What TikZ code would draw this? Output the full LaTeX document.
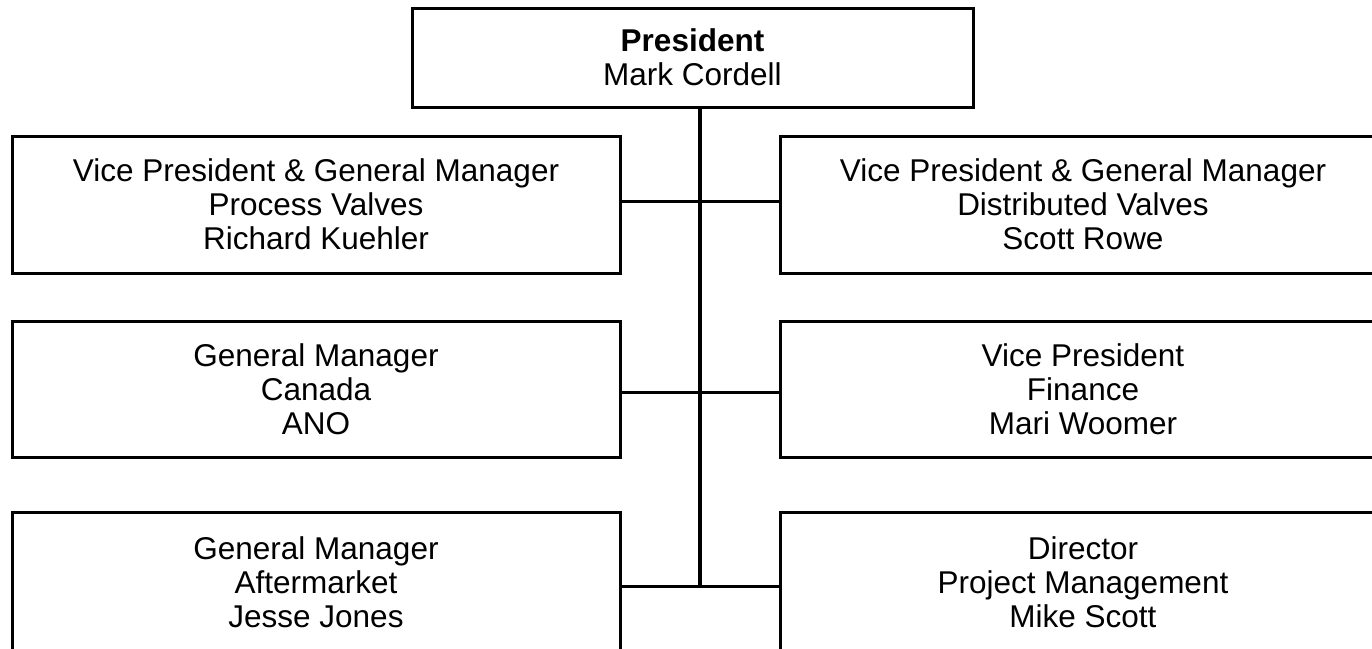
\documentclass[tikz,border=0pt]{standalone}
\usepackage{fontspec}
\setmainfont{Liberation Sans}
\begin{document}
\begin{tikzpicture}[x=1pt,y=-1pt,
  orgbox/.style={draw=black, line width=3pt, fill=white, rectangle, inner sep=0pt,
    align=center, font=\fontsize{31.5}{34}\selectfont},
  link/.style={draw=black, line width=3pt},
  spine/.style={draw=black, line width=4pt}]
\useasboundingbox (0,0) rectangle (1372,648);
\clip (0,0) rectangle (1372,648);
\fill[white] (0,0) rectangle (1372,648);

% President
\node[orgbox, minimum width=561pt, minimum height=99pt] (P) at (692.5,57.5)
  {\textbf{President}\\Mark Cordell};

% Left column
\node[orgbox, minimum width=608pt, minimum height=137pt] (L1) at (316,204.5)
  {Vice President \& General Manager\\Process Valves\\Richard Kuehler};
\node[orgbox, minimum width=608pt, minimum height=136pt] (L2) at (316,389)
  {General Manager\\Canada\\ANO};
\node[orgbox, minimum width=608pt, minimum height=140pt] (L3) at (316,582)
  {General Manager\\Aftermarket\\Jesse Jones};

% Right column
\node[orgbox, minimum width=606pt, minimum height=137pt] (R1) at (1083,204.5)
  {Vice President \& General Manager\\Distributed Valves\\Scott Rowe};
\node[orgbox, minimum width=606pt, minimum height=136pt] (R2) at (1083,389)
  {Vice President\\Finance\\Mari Woomer};
\node[orgbox, minimum width=606pt, minimum height=140pt] (R3) at (1083,582)
  {Director\\Project Management\\Mike Scott};

% Connectors
\coordinate (bus) at (700,586);
\draw[link] ([yshift=3.5pt]L1.east) -- ([yshift=3.5pt]R1.west);
\draw[link] ([yshift=-3pt]L2.east) -- ([yshift=-3pt]R2.west);
\draw[link] ([yshift=-4pt]L3.east) -- ([yshift=-4pt]R3.west);
\draw[spine] (P.south -| bus) -- (bus);
\end{tikzpicture}
\end{document}
